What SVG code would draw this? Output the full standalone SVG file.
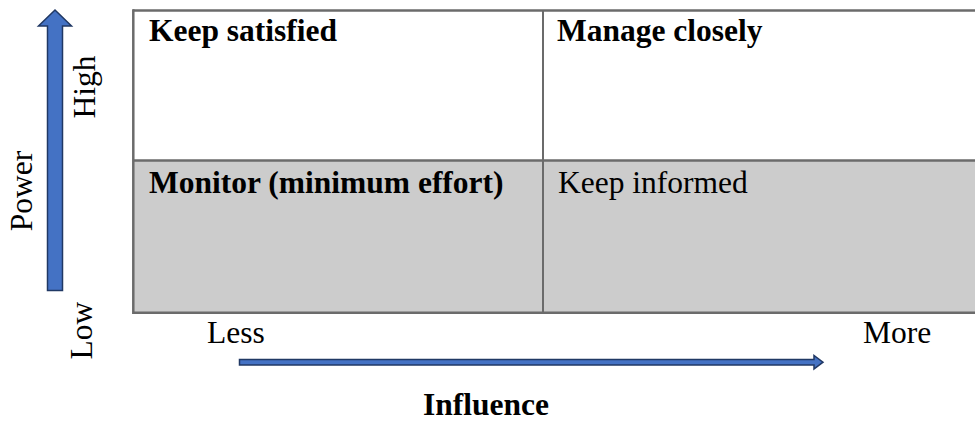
<svg xmlns="http://www.w3.org/2000/svg" width="975" height="421" viewBox="0 0 975 421">
<style>
.t { font-family: 'Liberation Serif', 'Times New Roman', Times, serif; font-size: 31.5px; fill: #000; }
.b { font-weight: bold; }
.cell { stroke: #6b6b6b; stroke-width: 2.5; }
.arrow { fill: #4472C4; stroke: #203864; stroke-width: 1.5; stroke-linejoin: miter; }
</style>
<rect x="0" y="0" width="975" height="421" fill="#fff"/>
<g id="grid">
  <rect x="133" y="160.5" width="850" height="152.5" fill="#CCCCCC"/>
  <g class="cell" fill="none">
    <line x1="133" y1="10.5" x2="975" y2="10.5"/>
    <line x1="133" y1="160.5" x2="975" y2="160.5"/>
    <line x1="133" y1="312.7" x2="975" y2="312.7"/>
    <line x1="133.3" y1="9.3" x2="133.3" y2="314"/>
    <line x1="543" y1="10.5" x2="543" y2="312.7" stroke-width="2"/>
  </g>
</g>
<g id="keep-satisfied"><text class="t b" font-family="Liberation Serif" x="149" y="41">Keep satisfied</text></g>
<g id="manage-closely"><text class="t b" font-family="Liberation Serif" x="557" y="41">Manage closely</text></g>
<g id="monitor"><text class="t b" font-family="Liberation Serif" x="149" y="193">Monitor (minimum effort)</text></g>
<g id="keep-informed"><text class="t" font-family="Liberation Serif" x="558" y="193">Keep informed</text></g>
<g id="power-label"><text class="t" font-family="Liberation Serif" transform="translate(32,191) rotate(-90)" text-anchor="middle">Power</text></g>
<g id="high-label"><text class="t" font-family="Liberation Serif" transform="translate(95,87) rotate(-90)" text-anchor="middle">High</text></g>
<g id="low-label"><text class="t" font-family="Liberation Serif" transform="translate(91.5,330.5) rotate(-90)" text-anchor="middle">Low</text></g>
<g id="less-label"><text class="t" font-family="Liberation Serif" x="207" y="343">Less</text></g>
<g id="more-label"><text class="t" font-family="Liberation Serif" x="863" y="343">More</text></g>
<g id="influence-label"><text class="t b" font-family="Liberation Serif" x="486" y="415" text-anchor="middle">Influence</text></g>
<g id="connectors">
  <polygon class="arrow" points="55,10 71.5,26 62.5,26 62.5,290.5 47.5,290.5 47.5,26 38.5,26"/>
  <polygon class="arrow" points="239.5,359.5 814,359.5 814,355.5 823,362.2 814,369 814,365 239.5,365"/>
</g>
</svg>
